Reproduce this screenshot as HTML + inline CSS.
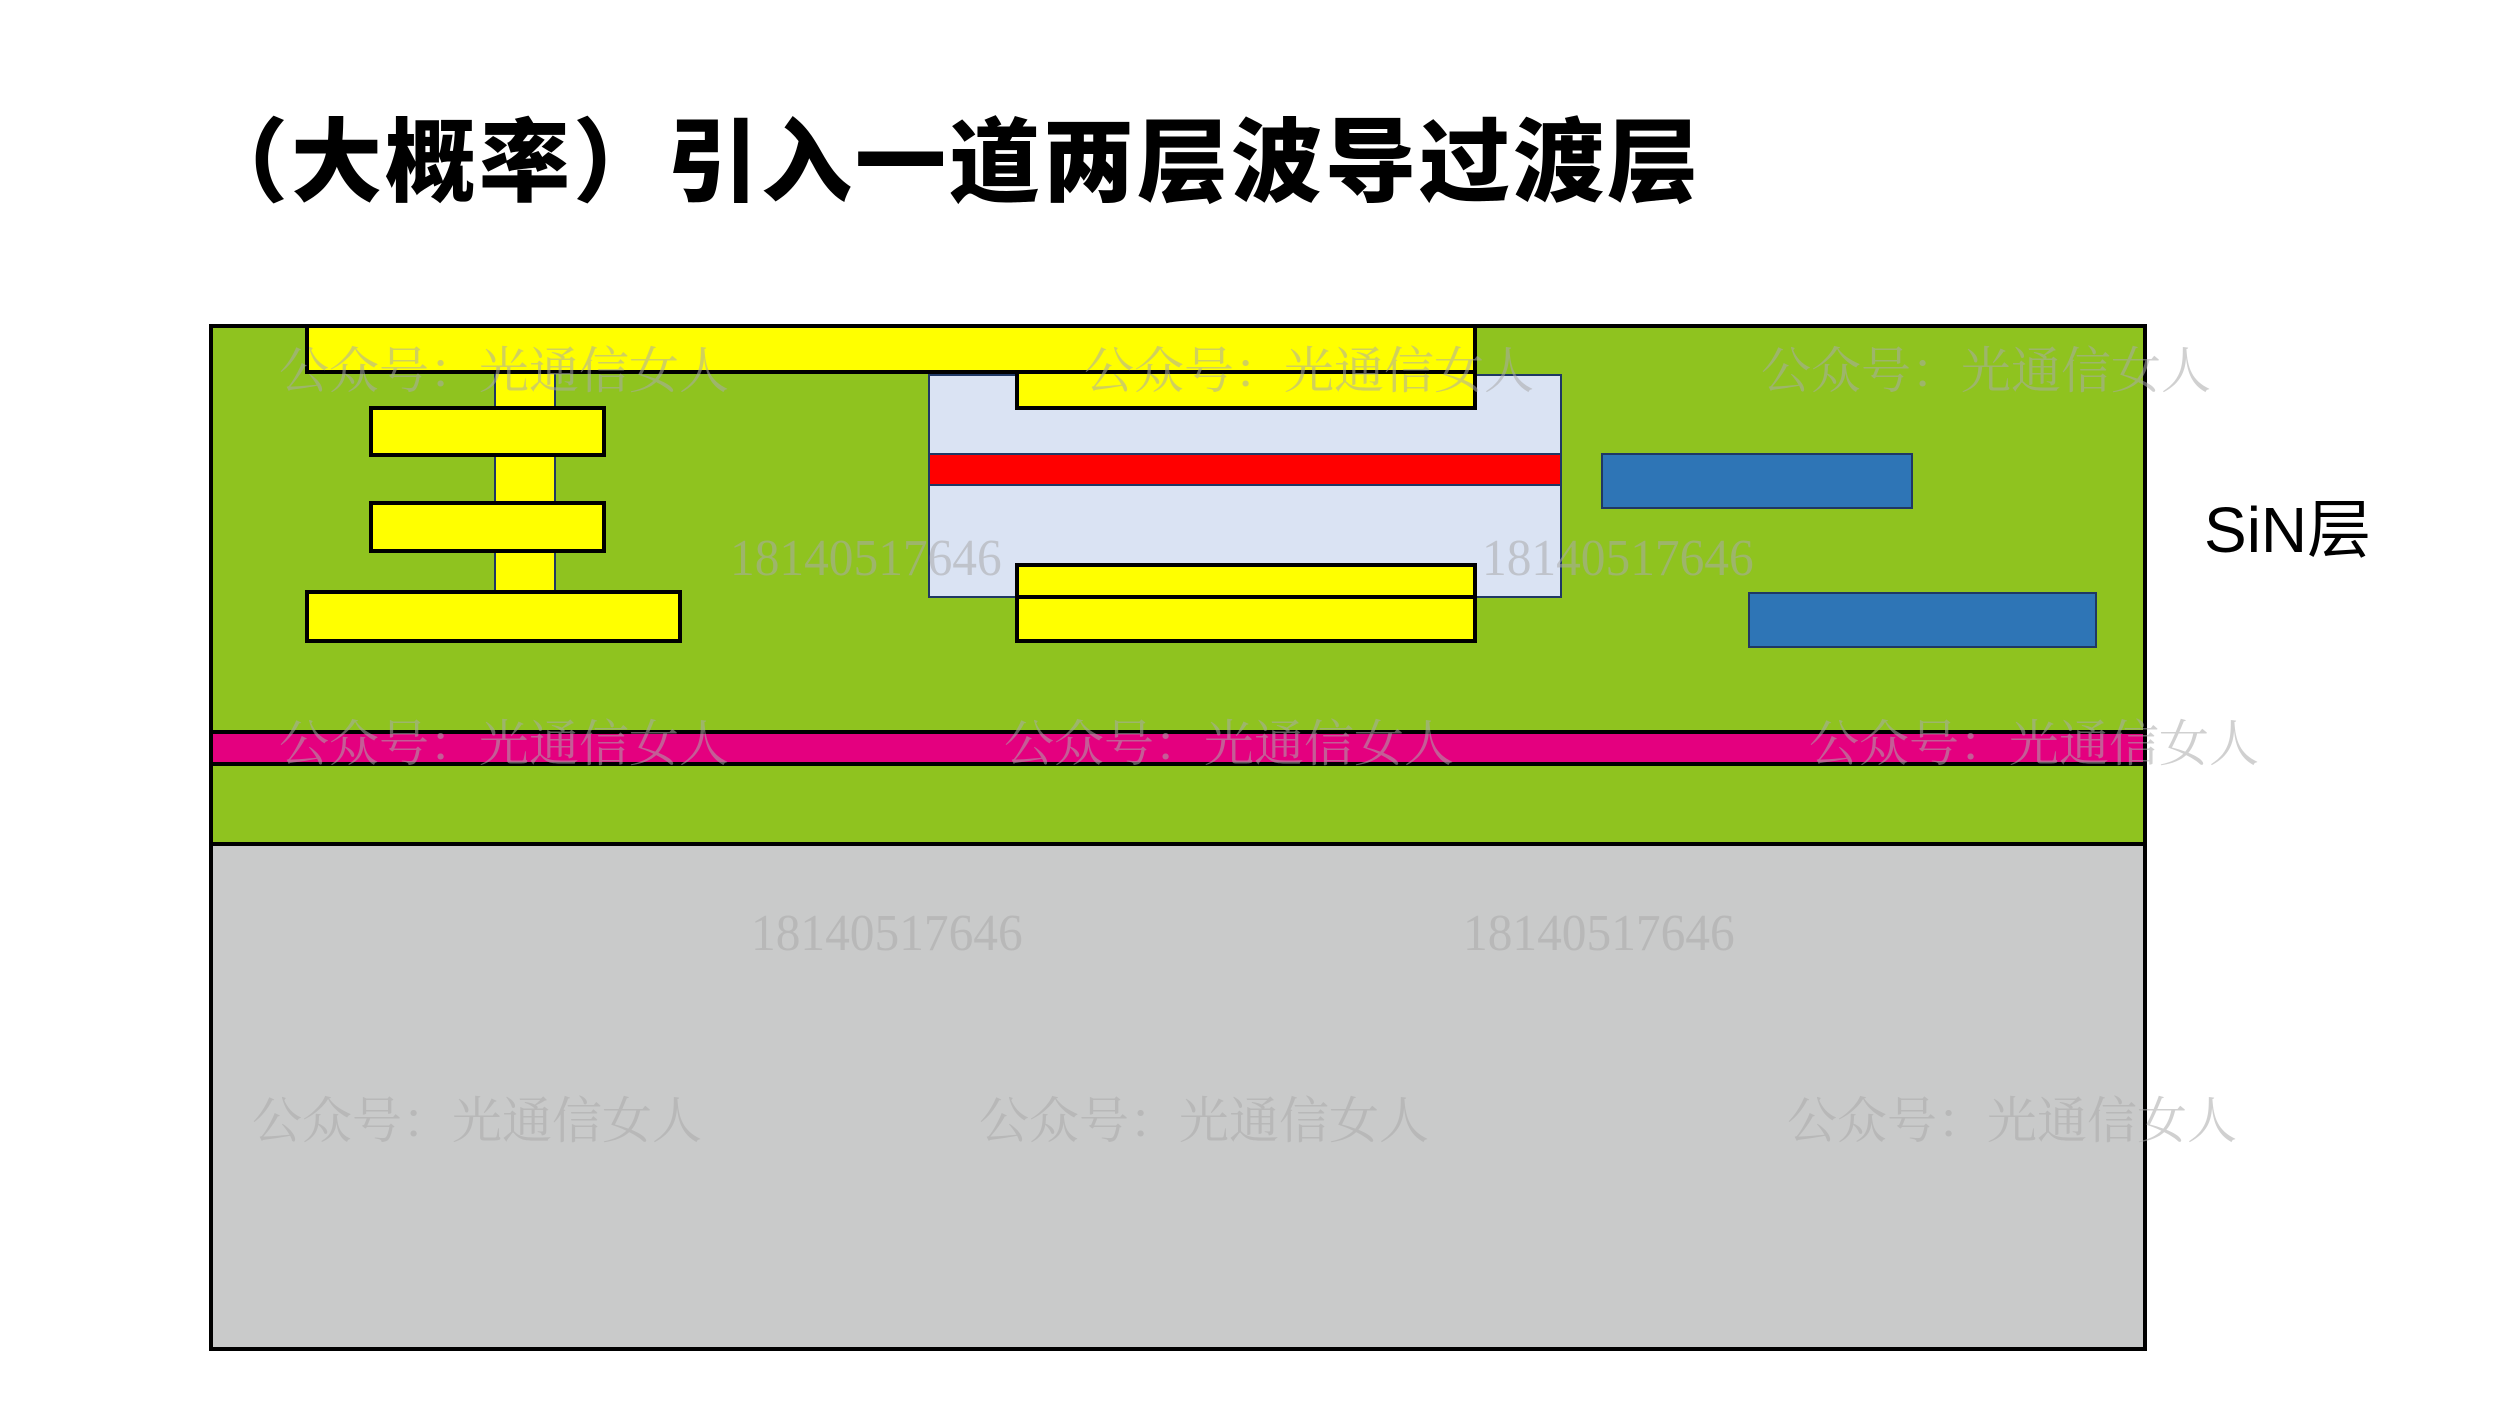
<!DOCTYPE html>
<html><head><meta charset="utf-8"><style>
body{margin:0;width:2500px;height:1406px;background:#fff;position:relative;overflow:hidden;font-family:"Liberation Sans","Noto Sans CJK SC",sans-serif}
.a{position:absolute;box-sizing:border-box}
.y{background:#ffff00;border:4px solid #000}
.b{background:#2e75b6;border:2px solid #1f3864}
.w{position:absolute;color:rgba(170,170,170,0.55);font-family:"Liberation Serif","Noto Serif CJK SC",serif;font-size:50px;white-space:nowrap;line-height:1}
.n{position:absolute;color:rgba(170,170,170,0.55);font-family:"Liberation Serif",serif;font-size:52px;white-space:nowrap;line-height:1;transform:scaleX(0.95);transform-origin:left}
</style></head><body>
<div class="a" style="left:197px;top:98px;font-family:'Noto Sans CJK SC',sans-serif;font-weight:900;font-size:91px;line-height:114px;letter-spacing:3px;white-space:nowrap">（大概率）引入一道两层波导过渡层</div>

<div class="a" style="left:209px;top:324px;width:1938px;height:1027px;background:#c9caca;border:4px solid #000"></div>
<div class="a" style="left:209px;top:324px;width:1938px;height:522px;background:#8fc31f;border:4px solid #000"></div>
<div class="a" style="left:209px;top:730px;width:1938px;height:36px;background:#e4007f;border:4px solid #000"></div>

<div class="a" style="left:494px;top:370px;width:62px;height:224px;background:#ffff00;border:2px solid #1f3864"></div>
<div class="a y" style="left:369px;top:406px;width:237px;height:51px"></div>
<div class="a y" style="left:369px;top:501px;width:237px;height:52px"></div>
<div class="a y" style="left:305px;top:590px;width:377px;height:53px"></div>

<div class="a" style="left:928px;top:374px;width:634px;height:224px;background:#dae3f3;border:2px solid #1f3864"></div>
<div class="a" style="left:928px;top:453px;width:634px;height:33px;background:#ff0000;border:2px solid #1f3864"></div>
<div class="a y" style="left:1015px;top:370px;width:462px;height:40px"></div>
<div class="a y" style="left:1015px;top:563px;width:462px;height:36px"></div>
<div class="a y" style="left:1015px;top:595px;width:462px;height:48px"></div>
<div class="a y" style="left:305px;top:324px;width:1172px;height:50px"></div>

<div class="a b" style="left:1601px;top:453px;width:312px;height:56px"></div>
<div class="a b" style="left:1748px;top:592px;width:349px;height:56px"></div>

<div class="a" style="left:2204px;top:490px;font-size:64px;line-height:80px;white-space:nowrap;font-family:'Liberation Sans','Noto Sans CJK SC',sans-serif">SiN层</div>

<div class="w" style="left:279px;top:346px">公众号：光通信女人</div>
<div class="w" style="left:1084px;top:346px">公众号：光通信女人</div>
<div class="w" style="left:1761px;top:346px">公众号：光通信女人</div>
<div class="n" style="left:730px;top:533px">18140517646</div>
<div class="n" style="left:1482px;top:533px">18140517646</div>
<div class="w" style="left:279px;top:719px">公众号：光通信女人</div>
<div class="w" style="left:1004px;top:719px">公众号：光通信女人</div>
<div class="w" style="left:1809px;top:719px">公众号：光通信女人</div>
<div class="n" style="left:751px;top:908px">18140517646</div>
<div class="n" style="left:1463px;top:908px">18140517646</div>
<div class="w" style="left:252px;top:1096px">公众号：光通信女人</div>
<div class="w" style="left:979px;top:1096px">公众号：光通信女人</div>
<div class="w" style="left:1787px;top:1096px">公众号：光通信女人</div>
</body></html>
